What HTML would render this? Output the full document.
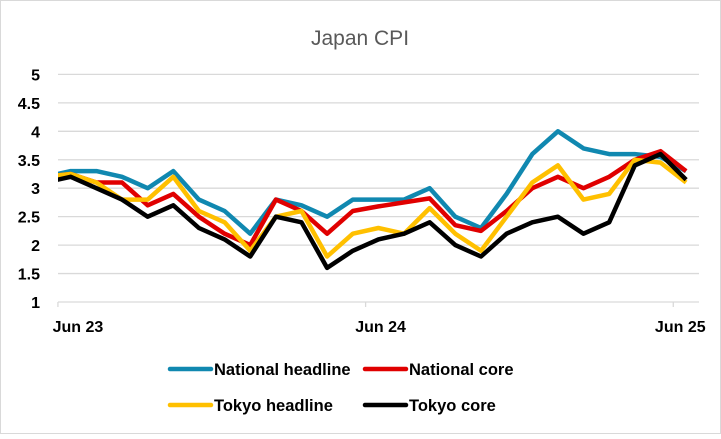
<!DOCTYPE html>
<html><head><meta charset="utf-8"><style>
body{margin:0;background:#fff}
svg text{font-family:"Liberation Sans",Arial,sans-serif}
</style></head><body>
<svg id="chart" width="721" height="434" viewBox="0 0 721 434" xmlns="http://www.w3.org/2000/svg">
<rect x="0.5" y="0.5" width="720" height="433" fill="#fff" stroke="#d9d9d9"/>
<text x="360" y="45" text-anchor="middle" font-size="21" fill="#595959">Japan CPI</text>
<defs><clipPath id="plotclip"><rect x="58" y="60" width="641" height="250"/></clipPath></defs>
<g id="grid"></g><g id="axes"></g><g id="series" clip-path="url(#plotclip)"></g><g id="legend"></g>
</svg>
<script>
const yTicks=[1,1.5,2,2.5,3,3.5,4,4.5,5];
const xTickLabels=["Jun 23","Jun 24","Jun 25"];
const xTickPos=[0.5,12.5,24.5];
const nationalHeadline=[3.2,3.3,3.3,3.2,3.0,3.3,2.8,2.6,2.2,2.8,2.7,2.5,2.8,2.8,2.8,3.0,2.5,2.3,2.9,3.6,4.0,3.7,3.6,3.6,3.55,3.3];
const nationalCore=[3.2,3.25,3.1,3.1,2.7,2.9,2.5,2.2,2.0,2.8,2.6,2.2,2.6,2.68,2.75,2.82,2.35,2.25,2.6,3.0,3.2,3.0,3.2,3.5,3.65,3.3];
const tokyoHeadline=[3.2,3.25,3.1,2.8,2.8,3.2,2.6,2.4,1.9,2.5,2.6,1.8,2.2,2.3,2.2,2.65,2.2,1.9,2.5,3.1,3.4,2.8,2.9,3.5,3.45,3.1];
const tokyoCore=[3.1,3.2,3.0,2.8,2.5,2.7,2.3,2.1,1.8,2.5,2.4,1.6,1.9,2.1,2.2,2.4,2.0,1.8,2.2,2.4,2.5,2.2,2.4,3.4,3.6,3.15];
const seriesNames=["National headline","National core","Tokyo headline","Tokyo core"];
const seriesColors=["#1088b0","#e00000","#ffc000","#000000"];
const NS="http://www.w3.org/2000/svg";
const X=i=>45.1+i*25.64;
const Y=v=>302-(v-1)*56.9;
function mk(tag,attrs,parent){const e=document.createElementNS(NS,tag);for(const k in attrs)e.setAttribute(k,attrs[k]);parent.appendChild(e);return e;}
const grid=document.getElementById('grid'),axes=document.getElementById('axes'),ser=document.getElementById('series'),leg=document.getElementById('legend');
yTicks.forEach(v=>{
  const l=mk('line',{x1:58,x2:699,y1:Y(v),y2:Y(v),stroke:'#d9d9d9','stroke-width':1.3},grid);
  
  
  const t=mk('text',{x:40,y:Y(v)+6,'text-anchor':'end','font-size':16,'font-weight':'bold',fill:'#000'},axes);
  t.textContent=String(v);
  
  
});
xTickPos.forEach((p,i)=>{
  const tk=mk('line',{x1:X(p),x2:X(p),y1:Y(1),y2:Y(1)+5,stroke:'#d9d9d9','stroke-width':1.3},axes);
  
  
  const t=mk('text',{x:X(p)+(i==0?20:(i==2?7:15)),y:332,'text-anchor':'middle','font-size':16,'font-weight':'bold',fill:'#000'},axes);
  t.textContent=xTickLabels[i];
  
  
});
[nationalHeadline,nationalCore,tokyoHeadline,tokyoCore].forEach((d,s)=>{
  const pts=d.map((v,i)=>X(i).toFixed(1)+','+Y(v).toFixed(1)).join(' ');
  const pl=mk('polyline',{points:pts,fill:'none',stroke:seriesColors[s],'stroke-width':4.5,'stroke-linejoin':'round'},ser);
  
  
});
const legPos=[[170,369],[365,369],[170,405],[365,405]];
seriesNames.forEach((n,s)=>{
  const [x,y]=legPos[s];
  const g=mk('g',{},leg);
  
  
  mk('line',{x1:x,x2:x+41,y1:y,y2:y,stroke:seriesColors[s],'stroke-width':4.5,'stroke-linecap':'round'},g);
  const t=mk('text',{x:x+44,y:y+6,'font-size':16.5,'font-weight':'bold',fill:'#000'},g);
  t.textContent=n;
});
</script>
</body></html>
